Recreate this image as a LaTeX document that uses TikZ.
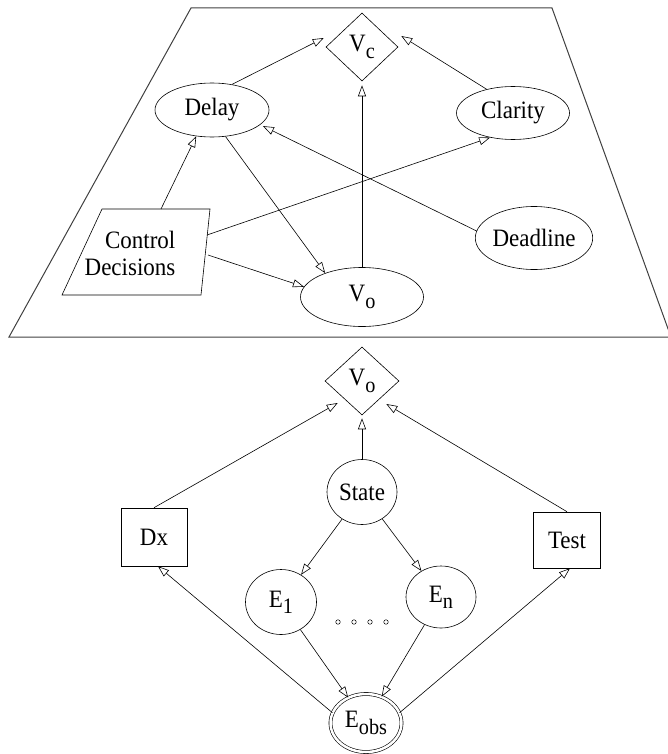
\documentclass[tikz,border=0pt]{standalone}
\usepackage{fontspec}
\setmainfont[FakeStretch=0.92]{Liberation Serif}
\usepackage{tikz}
\usetikzlibrary{shapes.geometric, arrows.meta, positioning, calc}
\tikzstyle{oval} = [ellipse, draw=black, inner sep=0pt, line width=0.6pt]
\tikzstyle{value} = [diamond, draw=black, inner sep=0pt, minimum width=72pt, minimum height=68pt, line width=0.6pt]
\tikzstyle{decision} = [rectangle, draw=black, inner sep=0pt, minimum width=66pt, minimum height=58pt, line width=0.6pt]
\tikzstyle{arrow} = [line width=0.6pt, -{Triangle[open, length=11pt, width=8pt]}]
\tikzstyle{plane} = [line width=1pt, draw=black!75]
\newcommand{\subtxt}[1]{\raisebox{-0.25em}{\fontsize{22}{22}\selectfont #1}}

\begin{document}
\begin{tikzpicture}[x=1pt, y=-1pt, every node/.style={font=\fontsize{25}{27}\selectfont}]
\useasboundingbox (0,0) rectangle (668,754);

% Upper plane
\draw [plane] (191,8) -- (552,8) -- (671,337) -- (9,337) -- cycle;

\node (vc) [value] at (362,47) {V\subtxt{c}};
\node (delay) [oval, minimum width=114pt, minimum height=54pt] at (212,110) {Delay};
\node (clarity) [oval, minimum width=113pt, minimum height=53pt] at (513,113) {Clarity};
\node (deadline) [oval, minimum width=117pt, minimum height=63pt] at (534,238) {Deadline};
\node (vo) [oval, minimum width=123pt, minimum height=59pt] at (362,297) {V\subtxt{o}};
\node (ctrl) [align=right, inner sep=0pt] at (130,253) {Control\\Decisions};
\draw [line width=0.6pt] ([shift={(-28,-44)}]ctrl.center) -- ([shift={(80,-44)}]ctrl.center)
  -- ([shift={(71,42)}]ctrl.center) -- ([shift={(-68,42)}]ctrl.center) -- cycle;

\draw [arrow] (delay.52) -- ([shift={(-2,-9)}]vc.west);
\draw [arrow] (clarity.138) -- ([shift={(3,-11)}]vc.east);
\draw [arrow, shorten >=4pt] (vo.north) -- (vc.south);
\draw [arrow] ([shift={(31,-44)}]ctrl.center) -- (delay.239);
\draw [arrow] ([shift={(77,-18)}]ctrl.center) -- (clarity.227);
\draw [arrow] ([shift={(78,2)}]ctrl.center) -- (vo.170);
\draw [arrow] (delay.297) -- (vo.147);
\draw [arrow, shorten >=3pt] (deadline.173) -- (delay.343);

% Lower network
\node (vo2) [value, minimum width=74pt] at (362,381) {V\subtxt{o}};
\node (state) [oval, minimum width=70pt, minimum height=65pt] at (362,492) {State};
\node (dx) [decision] at (154,537) {Dx};
\node (test) [decision, minimum width=67pt, minimum height=56pt] at (567,540) {Test};
\node (e1) [oval, minimum width=71pt, minimum height=65pt] at (281,602) {E\subtxt{1}};
\node (en) [oval, minimum width=70pt, minimum height=62pt] at (441,597) {E\subtxt{n}};
\node (eobs) [oval, double, double distance=2.5pt, minimum width=71pt, minimum height=58pt] at (366,723) {E\subtxt{obs}};
\foreach \i/\x in {1/338,2/354,3/370,4/386}
  \node (dot\i) [circle, draw, inner sep=0pt, minimum size=4.5pt, line width=0.5pt] at (\x,622) {};

\draw [arrow] (dx.north) -- ([shift={(13,22)}]vo2.west);
\draw [arrow] (test.north) -- ([shift={(-13,23)}]vo2.east);
\draw [arrow, shorten >=3pt] (state.north) -- (vo2.south);
\draw [arrow] (state) -- (e1);
\draw [arrow] (state) -- (en);
\draw [arrow] (e1) -- (eobs);
\draw [arrow] (en) -- (eobs);
\draw [arrow] (eobs.163) -- ([xshift=4pt]dx.south);
\draw [arrow] (eobs.17) -- ([xshift=3pt]test.south);

\end{tikzpicture}
\end{document}
